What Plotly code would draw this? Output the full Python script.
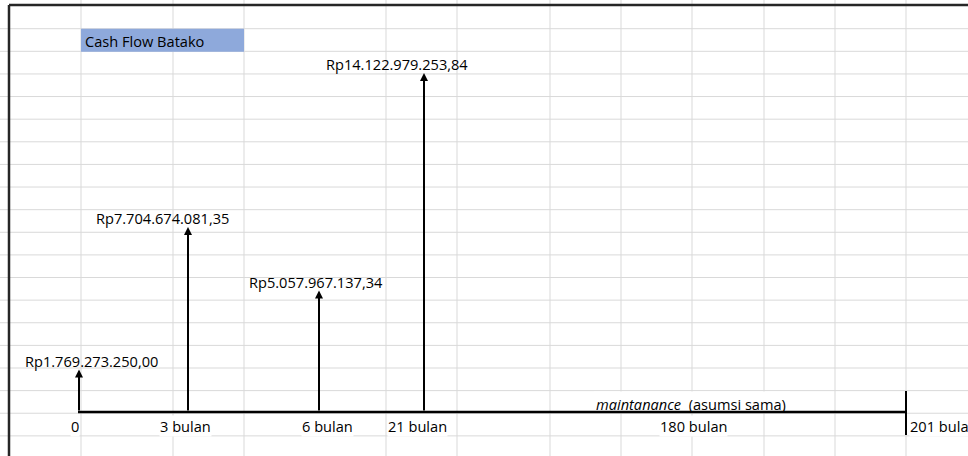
import plotly.graph_objects as go

# ---------------- data ----------------
periods = ["0", "3 bulan", "6 bulan", "21 bulan"]
cash_flows = [1769273250.00, 7704674081.35, 5057967137.34, 14122979253.84]
horizon_labels = ["180 bulan", "201 bulan"]
maintenance_term = "maintanance"
maintenance_note = "(asumsi sama)"
sheet_title = "Cash Flow Batako"


def format_rp(value):
    """Indonesian rupiah style: dot thousands separator, comma decimals."""
    s = f"{value:,.2f}".replace(",", "#").replace(".", ",").replace("#", ".")
    return "Rp" + s


flow_labels = [format_rp(v) for v in cash_flows]

# ---------------- layout constants ----------------
W, H = 968, 456
AXIS_ROW = 412            # pixel row of the time line
PX_PER_BILLION = 24.0     # vertical scale of the cash-flow arrows
FLOW_X = [79, 188, 319, 424]
LABEL_DX = [12.5, -26, -3.5, -27]
PERIOD_X = [75, 185, 327, 417]
HORIZON_X = [693, 909]
LINE_END_X = 906

COL_EDGES = [81, 173, 244, 386, 457, 550, 621, 692, 764, 835, 906]
ROW_TOP, ROW_H, N_ROWS = 28.7, 22.62, 19
GRID = "#d9d9d9"
FONT = "Open Sans"
FS = 14.6


def py(p):
    """pixel row -> paper fraction"""
    return 1 - p / H


y_lo = -(H - AXIS_ROW) / PX_PER_BILLION * 1e9
y_hi = AXIS_ROW / PX_PER_BILLION * 1e9

fig = go.Figure()
fig.add_trace(go.Scatter(x=[0], y=[0], mode="markers", marker=dict(opacity=0),
                         hoverinfo="skip", showlegend=False))

shapes = []
# sheet gridlines
for k in range(N_ROWS):
    yy = py(ROW_TOP + k * ROW_H)
    shapes.append(dict(type="line", xref="x", yref="paper", x0=0, x1=W, y0=yy, y1=yy,
                       line=dict(color=GRID, width=1), layer="below"))
for cx in COL_EDGES:
    shapes.append(dict(type="line", xref="x", yref="paper", x0=cx, x1=cx, y0=py(0), y1=py(H),
                       line=dict(color=GRID, width=1), layer="below"))
# overflowing text hides the cell borders of its row
shapes.append(dict(type="rect", xref="x", yref="paper", x0=594, x1=790,
                   y0=py(411.5), y1=py(391.5), fillcolor="white", line=dict(width=0), layer="below"))
# title cell fill
shapes.append(dict(type="rect", xref="x", yref="paper", x0=81, x1=244,
                   y0=py(ROW_TOP + ROW_H + 0.5), y1=py(ROW_TOP),
                   fillcolor="#8ea9db", line=dict(width=0), layer="below"))
# sheet border
shapes.append(dict(type="line", xref="x", yref="paper", x0=9, x1=W, y0=py(5), y1=py(5),
                   line=dict(color="#262626", width=2.5)))
shapes.append(dict(type="line", xref="x", yref="paper", x0=9, x1=9, y0=py(5), y1=py(H),
                   line=dict(color="#262626", width=2.5)))
# time line
shapes.append(dict(type="line", xref="x", yref="y", x0=FLOW_X[0] - 1, x1=LINE_END_X, y0=0, y1=0,
                   line=dict(color="black", width=2.5)))
shapes.append(dict(type="line", xref="x", yref="paper", x0=LINE_END_X, x1=LINE_END_X,
                   y0=py(391), y1=py(435), line=dict(color="black", width=2)))

font = dict(family=FONT, size=FS, color="black")
annotations = []
# cash-flow value labels
for x, v, lab, dx in zip(FLOW_X, cash_flows, flow_labels, LABEL_DX):
    annotations.append(dict(x=x, y=v, xref="x", yref="y", text=lab, showarrow=False,
                            xanchor="center", yanchor="middle", xshift=dx, yshift=9, font=font))
# cash-flow arrows
for x, v in zip(FLOW_X, cash_flows):
    annotations.append(dict(x=x, y=v, ax=x, ay=0, xref="x", yref="y", axref="x", ayref="y",
                            text="", showarrow=True, arrowhead=2, arrowsize=0.8,
                            arrowwidth=2, arrowcolor="black", standoff=0, startstandoff=0))
# period labels under the time line
for x, lab in zip(PERIOD_X, periods):
    annotations.append(dict(x=x, y=py(426), xref="x", yref="paper", text=lab, showarrow=False,
                            xanchor="center", yanchor="middle", bgcolor="white", borderpad=0,
                            font=font))
annotations.append(dict(x=HORIZON_X[0], y=py(426), xref="x", yref="paper", text=horizon_labels[0],
                        showarrow=False, xanchor="center", yanchor="middle", bgcolor="white",
                        borderpad=0, font=font))
annotations.append(dict(x=HORIZON_X[1], y=py(426), xref="x", yref="paper", text=horizon_labels[1],
                        showarrow=False, xanchor="left", yanchor="middle", bgcolor="white",
                        borderpad=0, font=font))
# maintenance note above the long segment
annotations.append(dict(x=691, y=py(403.5), xref="x", yref="paper",
                        text=f"<i>{maintenance_term}</i>\u00a0 {maintenance_note}",
                        showarrow=False, xanchor="center", yanchor="middle", font=font))
# sheet title
annotations.append(dict(x=83, y=py(41), xref="x", yref="paper", text=sheet_title, showarrow=False,
                        xanchor="left", yanchor="middle", font=font))

fig.update_layout(
    width=W, height=H, margin=dict(l=0, r=0, t=0, b=0),
    paper_bgcolor="white", plot_bgcolor="white", showlegend=False,
    xaxis=dict(range=[0, W], visible=False, fixedrange=True),
    yaxis=dict(range=[y_lo, y_hi], visible=False, fixedrange=True),
    shapes=shapes, annotations=annotations,
)

fig.write_html("out.html")
